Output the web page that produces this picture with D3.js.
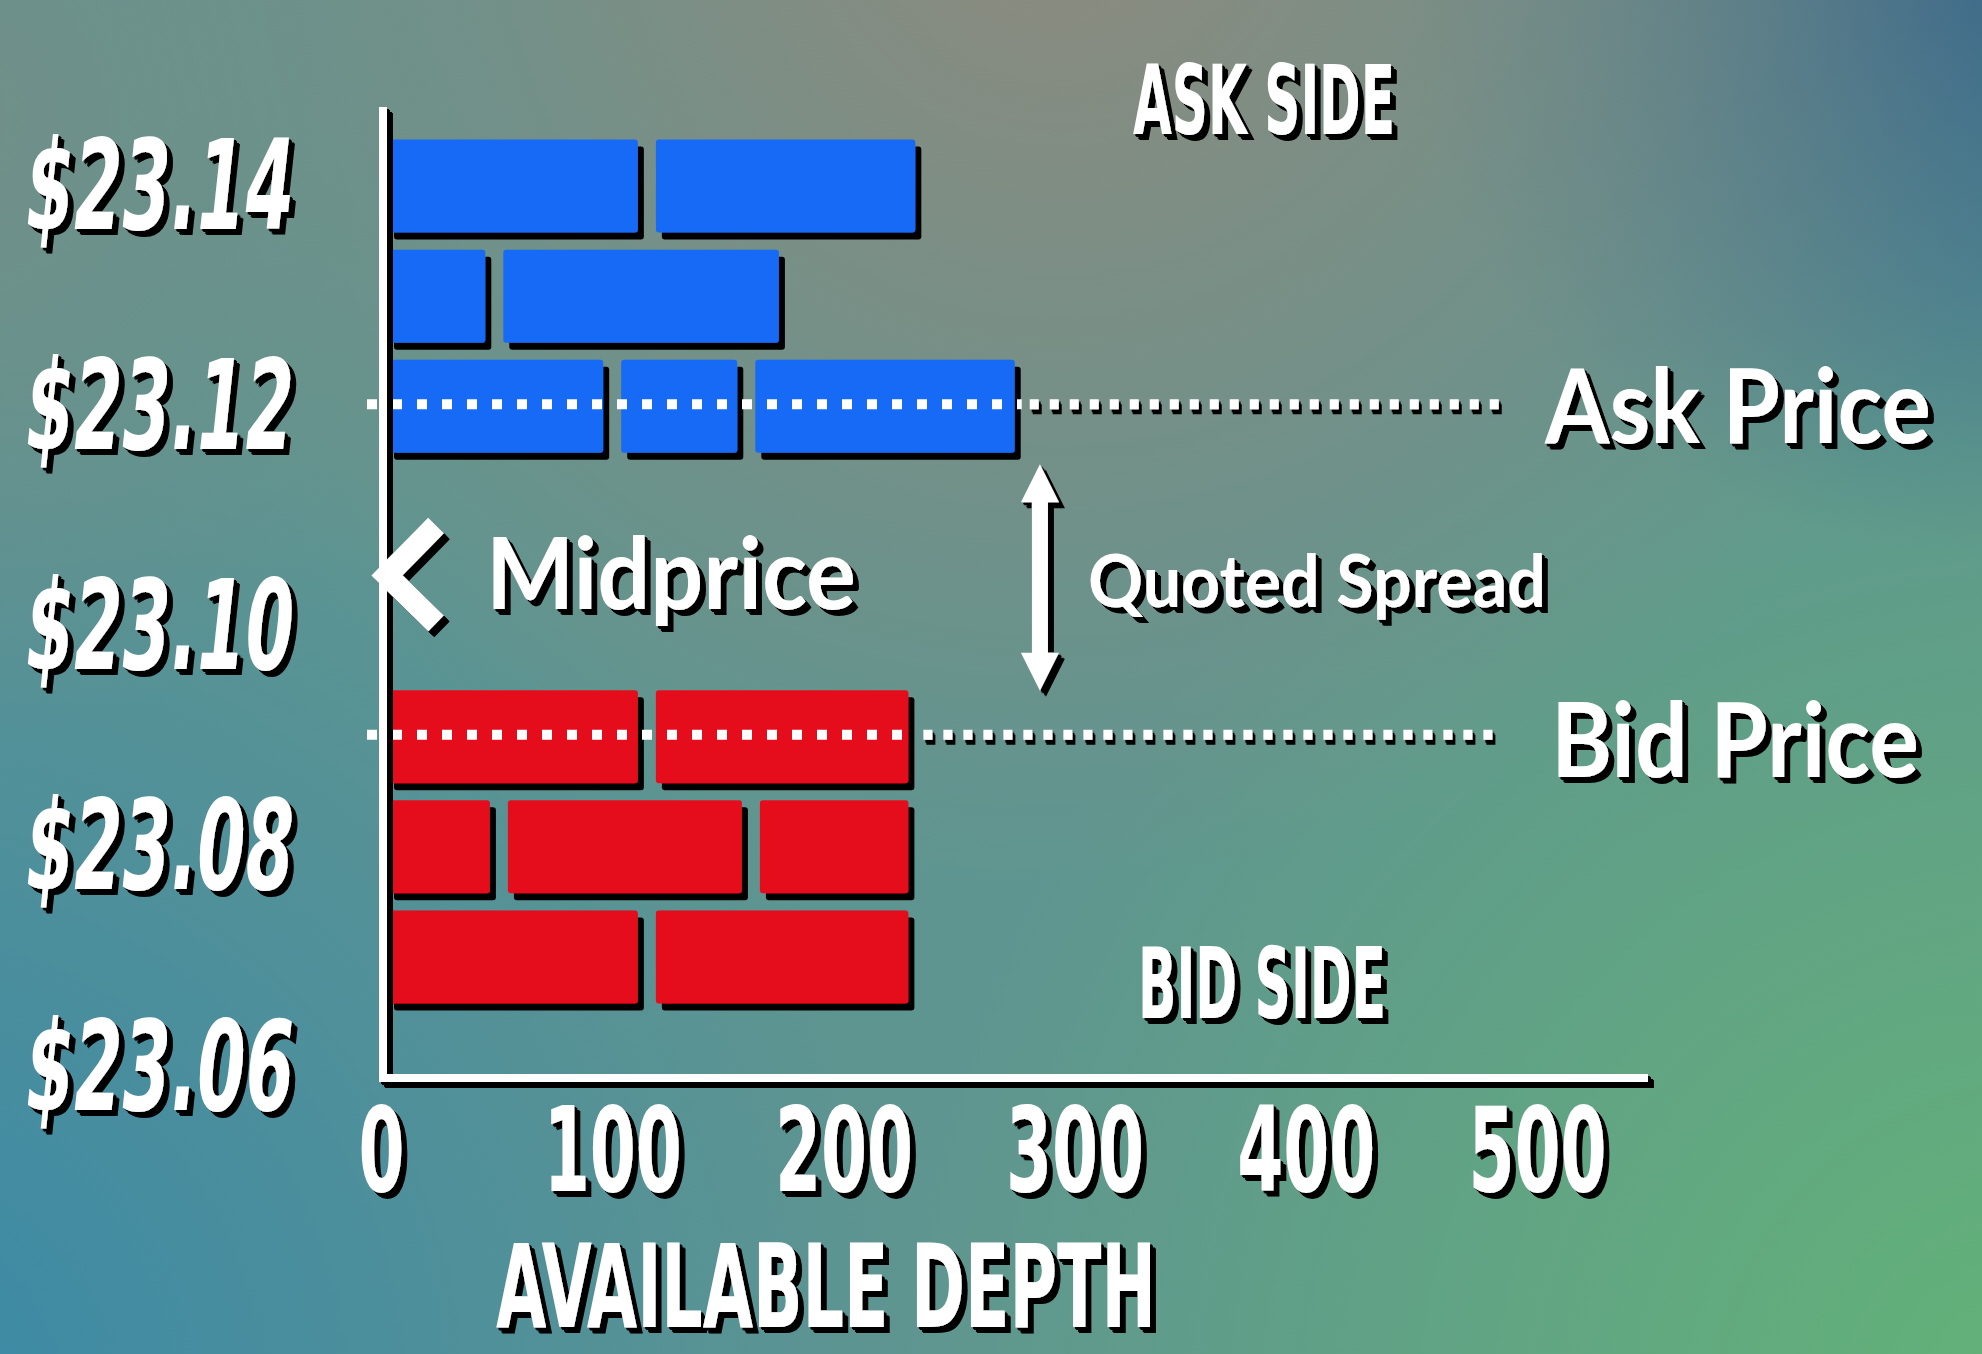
<!DOCTYPE html>
<html>
<head>
<meta charset="utf-8">
<title>Order book depth</title>
<script src="https://d3js.org/d3.v7.min.js"></script>
<style>
  body { margin: 0; overflow: hidden; }
  svg { display: block; }
  .cond { font-family: "Liberation Sans Narrow", "Arial Narrow", "DejaVu Sans Condensed", sans-serif; font-weight: bold; fill: #fff; }
  .round { font-family: Lato, "Open Sans", sans-serif; font-weight: bold; fill: #fff; }
</style>
</head>
<body>
<script>

    // price levels with resting orders, one row each
    var priceLevels = [23.14, 23.13, 23.12, 23.09, 23.08, 23.07];
    var bookSide    = ["ask", "ask", "ask", "bid", "bid", "bid"];
    // individual order sizes queued at each level
    var orderSizes  = [[115, 120], [49, 127], [100, 58, 120], [115, 117], [51, 109, 72], [115, 117]];

    var priceTicks = [23.14, 23.12, 23.10, 23.08, 23.06];
    var depthTicks = [0, 100, 200, 300, 400, 500];

    var askPrice = 23.12,
        bidPrice = 23.09,
        midPrice = (askPrice + bidPrice) / 2;

    var width = 1982, height = 1354;
    var sideColor = { ask: "#176af5", bid: "#e50b1b" };

    var x = d3.scaleLinear().domain([0, 500]).range([381, 1537]);
    var y = d3.scaleLinear().domain([23.06, 23.14]).range([1067, 186]);
    var barH = 93;

    var svg = d3.select("body").append("svg")
        .attr("width", width)
        .attr("height", height);

    var defs = svg.append("defs");

    // background: soft blurry blend of grey, teal, blue and green
    var glows = [
        { id: "gGreen", cx: 2050, cy: 1420, r: 1150, c: "#63b377", o: 1 },
        { id: "gTeal",  cx: -120, cy: 1400, r: 1050, c: "#3a89a7", o: 1 },
        { id: "gBlue",  cx: 2010, cy: -60,  r: 620,  c: "#35638a", o: 0.95 },
        { id: "gWarm",  cx: 1060, cy: -120, r: 1000, c: "#8e8a7e", o: 1 },
        { id: "gGrey",  cx: -60,  cy: 120,  r: 620,  c: "#748e88", o: 0.9 }
    ];
    glows.forEach(function(gl) {
        var rg = defs.append("radialGradient")
            .attr("id", gl.id)
            .attr("gradientUnits", "userSpaceOnUse")
            .attr("cx", gl.cx).attr("cy", gl.cy).attr("r", gl.r);
        rg.append("stop").attr("offset", 0).attr("stop-color", gl.c).attr("stop-opacity", gl.o);
        rg.append("stop").attr("offset", 1).attr("stop-color", gl.c).attr("stop-opacity", 0);
    });

    // hard black drop shadows
    function shadowFilter(id, steps) {
        var f = defs.append("filter")
            .attr("id", id)
            .attr("filterUnits", "userSpaceOnUse")
            .attr("x", 0).attr("y", 0).attr("width", width).attr("height", height);
        f.append("feFlood").attr("flood-color", "#000");
        f.append("feComposite").attr("in2", "SourceAlpha").attr("operator", "in").attr("result", "blk");
        steps.forEach(function(s, i) {
            f.append("feOffset").attr("in", "blk").attr("dx", s[0]).attr("dy", s[1]).attr("result", "o" + i);
        });
        var m = f.append("feMerge");
        steps.slice().reverse().forEach(function(s, i) {
            m.append("feMergeNode").attr("in", "o" + (steps.length - 1 - i));
        });
        m.append("feMergeNode").attr("in", "SourceGraphic");
    }
    shadowFilter("txtShadow", [[1.5, 1.5], [3, 3], [4.5, 4.5], [5.5, 6]]);
    shadowFilter("barShadow", [[6, 7]]);
    shadowFilter("dotShadow", [[1.5, 2.5], [3, 5]]);

    svg.append("rect").attr("width", width).attr("height", height).attr("fill", "#5f9590");
    glows.forEach(function(gl) {
        svg.append("rect").attr("width", width).attr("height", height).attr("fill", "url(#" + gl.id + ")");
    });

    // squeeze a text horizontally to a target width (condensed poster look)
    function squeeze(node, target, dx, dy) {
        var w = node.getComputedTextLength();
        var s = w > 0 ? target / w : 1;
        d3.select(node).attr("transform", "translate(" + dx + "," + dy + ") scale(" + s + ",1)");
    }

    // flatten orders into segments along the depth axis
    var segments = [];
    orderSizes.forEach(function(row, i) {
        var cum = 0;
        row.forEach(function(sz, j) {
            segments.push({ price: priceLevels[i], side: bookSide[i], start: cum, end: cum + sz, first: j === 0 });
            cum += sz;
        });
    });
    function rowTotal(p) {
        var i = priceLevels.indexOf(p);
        return d3.sum(orderSizes[i]);
    }

    var bars = svg.append("g").attr("filter", "url(#barShadow)");
    bars.selectAll("rect")
        .data(segments)
        .enter().append("rect")
        .attr("x", function(d) { return x(d.start) + (d.first ? 7 : 9); })
        .attr("y", function(d) { return y(d.price) - barH / 2; })
        .attr("width", function(d) { return x(d.end) - x(d.start) - (d.first ? 16 : 18); })
        .attr("height", barH)
        .attr("rx", 3)
        .attr("fill", function(d) { return sideColor[d.side]; });

    // dotted price lines: over the bars, then out to the labels
    [askPrice, bidPrice].forEach(function(p) {
        var yy = y(p) - 2;
        svg.append("line")
            .attr("x1", 367).attr("x2", x(rowTotal(p)) - 2)
            .attr("y1", yy).attr("y2", yy)
            .attr("stroke", "#fff").attr("stroke-width", 10)
            .attr("stroke-dasharray", "10,15");
        svg.append("line")
            .attr("filter", "url(#dotShadow)")
            .attr("x1", x(rowTotal(p)) + 6).attr("x2", x(484))
            .attr("y1", yy).attr("y2", yy)
            .attr("stroke", "#fff").attr("stroke-width", 10)
            .attr("stroke-dasharray", "9,11");
    });

    var fg = svg.append("g").attr("filter", "url(#txtShadow)");

    // axis lines
    fg.append("line")
        .attr("x1", x(0) + 2).attr("x2", x(0) + 2)
        .attr("y1", 107).attr("y2", 1082)
        .attr("stroke", "#fff").attr("stroke-width", 8);
    fg.append("line")
        .attr("x1", x(0) - 2).attr("x2", x(548))
        .attr("y1", 1078).attr("y2", 1078)
        .attr("stroke", "#fff").attr("stroke-width", 8);

    // depth axis labels
    var xAxis = d3.axisBottom(x).tickValues(depthTicks).tickSize(0).tickFormat(d3.format("d"));
    var xg = fg.append("g").attr("transform", "translate(0,1078)").call(xAxis);
    xg.select(".domain").remove();
    xg.selectAll("text")
        .attr("class", "cond")
        .attr("fill", "#fff")
        .style("font-size", "118px")
        .attr("y", 0).attr("dy", 0)
        .each(function(d) { squeeze(this, 46 * String(d).length, 0, 113); });

    // price axis labels
    var yAxis = d3.axisLeft(y).tickValues(priceTicks).tickSize(0)
        .tickFormat(function(d) { return "$" + d.toFixed(2); });
    var yg = fg.append("g").attr("transform", "translate(" + x(0) + ",0)").call(yAxis);
    yg.select(".domain").remove();
    yg.selectAll("text")
        .attr("class", "cond")
        .attr("fill", "#fff")
        .style("font-size", "124px")
        .style("font-style", "italic")
        .attr("text-anchor", "start")
        .attr("x", 0)
        .attr("dy", "0.34em")
        .each(function() { squeeze(this, 268, 26 - x(0), 0); });

    // titles
    function label(cls, txt, xx, yy, size, len) {
        var t = fg.append("text")
            .attr("class", cls)
            .style("font-size", size + "px")
            .text(txt);
        squeeze(t.node(), len, xx, yy);
        return t;
    }
    label("cond", "ASK SIDE", 1133, 134, 96, 262);
    label("cond", "BID SIDE", 1138, 1018, 98, 248);
    label("cond", "AVAILABLE DEPTH", 496, 1327, 116, 660);

    label("round", "Ask Price", 1545, y(askPrice) + 37, 104, 386);
    label("round", "Bid Price", 1551, y(bidPrice) + 40, 104, 368);
    label("round", "Midprice", 486, y(midPrice) + 38, 100, 370);
    label("round", "Quoted Spread", 1088, y(midPrice) + 36, 72, 458);

    // midprice chevron
    var ym = y(midPrice);
    fg.append("path")
        .attr("d", "M" + (x(0) + 55) + "," + (ym - 46) + "L" + (x(0) + 6) + "," + (ym + 4) + "L" + (x(0) + 55) + "," + (ym + 52))
        .attr("fill", "none")
        .attr("stroke", "#fff")
        .attr("stroke-width", 22)
        .attr("stroke-linejoin", "miter");

    // quoted spread double arrow
    var ax = x(285),
        arrTop = y(askPrice) + 58,
        arrBot = y(bidPrice) - 46,
        hw = 19, hl = 38, sw = 8;
    fg.append("path")
        .attr("d", [
            "M", ax, arrTop,
            "L", ax + hw, arrTop + hl,
            "L", ax + sw, arrTop + hl,
            "L", ax + sw, arrBot - hl,
            "L", ax + hw, arrBot - hl,
            "L", ax, arrBot,
            "L", ax - hw, arrBot - hl,
            "L", ax - sw, arrBot - hl,
            "L", ax - sw, arrTop + hl,
            "L", ax - hw, arrTop + hl, "Z"].join(" "))
        .attr("fill", "#fff");

</script>
</body>
</html>
